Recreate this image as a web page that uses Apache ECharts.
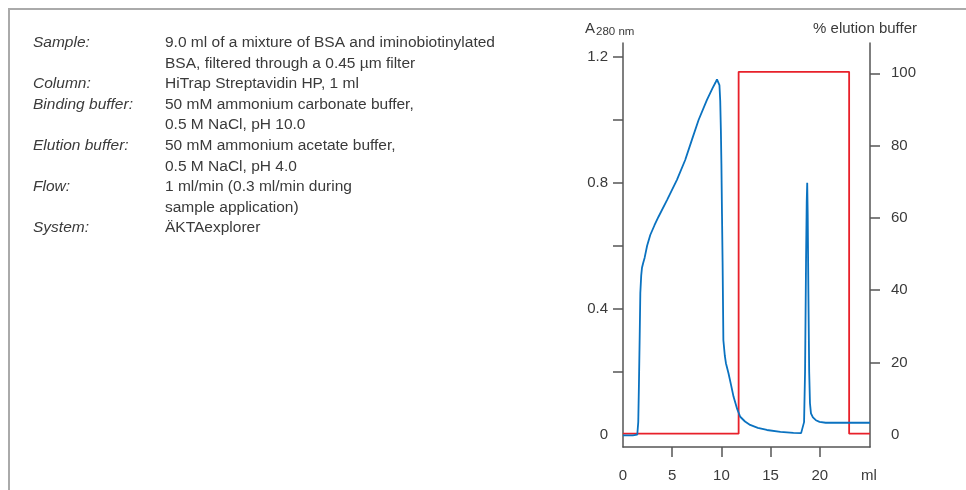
<!DOCTYPE html>
<html>
<head>
<meta charset="utf-8">
<script src="https://cdn.jsdelivr.net/npm/echarts@6/dist/echarts.min.js"></script>
<style>
html,body{margin:0;padding:0;background:#fff;}
#chart{width:966px;height:490px;}
</style>
</head>
<body>
<div id="chart"></div>
<script>
// Absorbance (A280 nm) vs volume (ml)
const absX = [0, 1.0, 1.45, 1.55, 1.62, 1.7, 1.76, 1.85, 1.93, 2.05, 2.2, 2.45, 2.77, 3.2, 3.61, 4.47, 5.48, 6.32, 7.0, 7.68, 8.53, 9.1, 9.4, 9.55, 9.64, 9.72, 9.8, 9.88, 9.95, 10.0, 10.06, 10.12, 10.2, 10.35, 10.46, 10.72, 11.0, 11.23, 11.6, 11.91, 12.4, 12.92, 13.7, 14.62, 16.0, 17.32, 18.1, 18.25, 18.4, 18.5, 18.6, 18.67, 18.72, 18.77, 18.84, 18.92, 19.0, 19.1, 19.3, 19.6, 19.97, 20.6, 22.0, 25.1];
const absY = [-0.002, -0.002, 0.0, 0.04, 0.16, 0.32, 0.45, 0.505, 0.53, 0.545, 0.562, 0.6, 0.634, 0.665, 0.692, 0.745, 0.809, 0.872, 0.936, 0.999, 1.063, 1.1, 1.118, 1.128, 1.133, 1.13, 1.11, 1.06, 0.96, 0.86, 0.7, 0.55, 0.30, 0.25, 0.227, 0.195, 0.155, 0.121, 0.082, 0.057, 0.042, 0.031, 0.022, 0.015, 0.009, 0.006, 0.005, 0.01, 0.04, 0.2, 0.55, 0.74, 0.80, 0.7, 0.45, 0.2, 0.1, 0.068, 0.055, 0.046, 0.041, 0.038, 0.038, 0.038];
// % elution buffer vs volume (ml)
const pctX = [0, 11.75, 11.75, 22.98, 22.98, 25.1];
const pctY = [0.3, 0.3, 100.4, 100.4, 0.3, 0.3];
// Tick labels
const xLabels = [0, 5, 10, 15, 20, 25];
const xTicks = [5, 10, 15, 20];
const leftLabels = [0, 0.4, 0.8, 1.2];
const leftTicks = [0.2, 0.4, 0.6, 0.8, 1.0, 1.2];
const rightLabels = [0, 20, 40, 60, 80, 100];
const rightTicks = [20, 40, 60, 80, 100];
// Method text
const infoLabels = ['Sample:', '', 'Column:', 'Binding buffer:', '', 'Elution buffer:', '', 'Flow:', '', 'System:'];
const infoValues = ['9.0 ml of a mixture of BSA and iminobiotinylated', 'BSA, filtered through a 0.45 µm filter', 'HiTrap Streptavidin HP, 1 ml', '50 mM ammonium carbonate buffer,', '0.5 M NaCl, pH 10.0', '50 mM ammonium acetate buffer,', '0.5 M NaCl, pH 4.0', '1 ml/min (0.3 ml/min during', 'sample application)', 'ÄKTAexplorer'];

const FONT = '"Liberation Sans", Arial, sans-serif';
const TXT = '#3a3a3a';
const AX = '#555';
const FS = 15;

const absData = absX.map((x, i) => [x, absY[i]]);
const pctData = pctX.map((x, i) => [x, pctY[i]]);

const graphics = [
  {type: 'line', shape: {x1: 9, y1: 9, x2: 966, y2: 9}, style: {stroke: '#aaa', lineWidth: 2}},
  {type: 'line', shape: {x1: 9, y1: 8, x2: 9, y2: 490}, style: {stroke: '#aaa', lineWidth: 2}},
  {type: 'text', x: 585, y: 29, style: {
    text: '{a|A}{s|280 nm}', verticalAlign: 'middle', fill: TXT,
    rich: {a: {fontSize: 15, fontFamily: FONT, fill: TXT}, s: {fontSize: 11.5, fontFamily: FONT, fill: TXT, padding: [6, 0, 0, 1]}}
  }},
  {type: 'text', x: 917, y: 29, style: {text: '% elution buffer', align: 'right', verticalAlign: 'middle', fontSize: FS, fontFamily: FONT, fill: TXT}}
];
const lineH = 20.55;
infoLabels.forEach((t, i) => {
  if (t) graphics.push({type: 'text', x: 33, y: 43 + i * lineH, style: {text: t, verticalAlign: 'middle', fontSize: 15.5, fontStyle: 'italic', fontFamily: FONT, fill: TXT}});
});
infoValues.forEach((t, i) => {
  graphics.push({type: 'text', x: 165, y: 43 + i * lineH, style: {text: t, verticalAlign: 'middle', fontSize: 15.5, fontFamily: FONT, fill: TXT}});
});

const chart = echarts.init(document.getElementById('chart'), null, {renderer: 'canvas'});
chart.setOption({
  animation: false,
  backgroundColor: '#fff',
  grid: {left: 623, right: 96, top: 43, bottom: 43, containLabel: false},
  xAxis: {
    type: 'value', min: 0, max: 25.1,
    axisLine: {show: true, onZero: false, lineStyle: {color: AX, width: 1.5}},
    axisTick: {show: true, customValues: xTicks, length: 10, lineStyle: {color: AX, width: 1.5}},
    axisLabel: {customValues: xLabels, margin: 21, fontSize: FS, fontFamily: FONT, color: TXT,
      formatter: v => (v === 25 ? 'ml' : String(v))},
    splitLine: {show: false}
  },
  yAxis: [
    {
      type: 'value', min: -0.039, max: 1.2435, position: 'left',
      axisLine: {show: true, onZero: false, lineStyle: {color: AX, width: 1.5}},
      axisTick: {show: true, customValues: leftTicks, length: 10, lineStyle: {color: AX, width: 1.5}},
      axisLabel: {customValues: leftLabels, margin: 15, fontSize: FS, fontFamily: FONT, color: TXT,
        formatter: v => (v === 0 ? '0' : v.toFixed(1))},
      splitLine: {show: false}
    },
    {
      type: 'value', min: -3.40, max: 108.38, position: 'right',
      axisLine: {show: true, onZero: false, lineStyle: {color: AX, width: 1.5}},
      axisTick: {show: true, customValues: rightTicks, length: 10, lineStyle: {color: AX, width: 1.5}},
      axisLabel: {customValues: rightLabels, margin: 21, fontSize: FS, fontFamily: FONT, color: TXT},
      splitLine: {show: false}
    }
  ],
  series: [
    {type: 'line', yAxisIndex: 1, data: pctData, showSymbol: false, smooth: false,
      lineStyle: {color: '#e8202a', width: 1.8}, z: 2},
    {type: 'line', yAxisIndex: 0, data: absData, showSymbol: false, smooth: false,
      lineStyle: {color: '#0a72c0', width: 1.8}, z: 3}
  ],
  graphic: graphics
});
</script>
</body>
</html>
